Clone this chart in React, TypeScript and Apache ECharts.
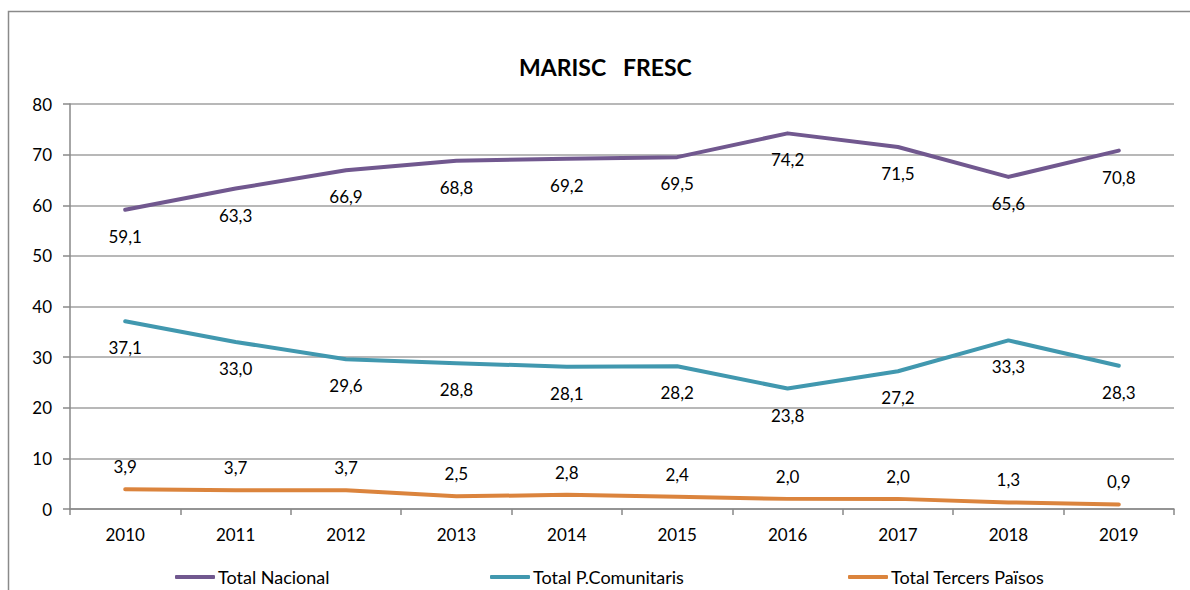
import React, { useEffect, useRef } from "react";
import * as echarts from "echarts";

const years = ["2010", "2011", "2012", "2013", "2014", "2015", "2016", "2017", "2018", "2019"];
const totalNacional = [59.1, 63.3, 66.9, 68.8, 69.2, 69.5, 74.2, 71.5, 65.6, 70.8];
const totalComunitaris = [37.1, 33.0, 29.6, 28.8, 28.1, 28.2, 23.8, 27.2, 33.3, 28.3];
const totalTercers = [3.9, 3.7, 3.7, 2.5, 2.8, 2.4, 2.0, 2.0, 1.3, 0.9];
const seriesNames = ["Total Nacional", "Total P.Comunitaris", "Total Tercers Països"];
const seriesColors = ["#71588F", "#4198AF", "#DB843D"];

const FONT = "Lato";
const fmt = (p: any) => Number(p.value).toFixed(1).replace(".", ",");

export default function App() {
  const ref = useRef<HTMLDivElement>(null);
  useEffect(() => {
    if (!ref.current) return;
    const chart = echarts.init(ref.current, undefined, { renderer: "svg" });
    const mkSeries = (i: number, data: number[], pos: "top" | "bottom", dist: number) => ({
      name: seriesNames[i],
      type: "line",
      data,
      showSymbol: true,
      symbol: "circle",
      symbolSize: 0,
      lineStyle: { color: seriesColors[i], width: 4, cap: "round", join: "round" },
      itemStyle: { color: seriesColors[i] },
      label: {
        show: true,
        position: pos,
        distance: dist,
        formatter: fmt,
        color: "#000",
        fontFamily: FONT,
        fontSize: 17,
      },
    });
    const legendAt = (i: number, left: number) => ({
      data: [{ name: seriesNames[i], icon: "roundRect" }],
      left,
      top: 568,
      padding: 0,
      itemWidth: 40,
      itemHeight: 4,
      itemGap: 0,
      textStyle: { fontFamily: FONT, fontSize: 18, color: "#000", padding: [0, 0, 0, -2] },
    });
    chart.setOption({
      animation: false,
      backgroundColor: "#fff",
      title: {
        text: "MARISC   FRESC",
        left: 519,
        top: 55,
        padding: 0,
        textStyle: { fontFamily: FONT, fontSize: 23, fontWeight: "bold", color: "#000" },
      },
      legend: [legendAt(0, 175), legendAt(1, 490), legendAt(2, 848)],
      graphic: [
        {
          type: "rect",
          shape: { x: 8.5, y: 11.5, width: 1300, height: 700 },
          style: { fill: "none", stroke: "#8a8a8a", lineWidth: 1.5 },
          silent: true,
          z: -10,
        },
      ],
      grid: { left: 70, right: 16, top: 104, bottom: 81, containLabel: false },
      xAxis: {
        type: "category",
        data: years,
        boundaryGap: true,
        axisLine: { show: true, lineStyle: { color: "#888", width: 1.5 } },
        axisTick: { show: true, length: 6, lineStyle: { color: "#888", width: 1.5 } },
        axisLabel: { color: "#000", fontFamily: FONT, fontSize: 17, margin: 17 },
        splitLine: { show: false },
      },
      yAxis: {
        type: "value",
        min: 0,
        max: 80,
        interval: 10,
        axisLine: { show: true, lineStyle: { color: "#888", width: 1.5 } },
        axisTick: { show: true, length: 7, lineStyle: { color: "#888", width: 1.5 } },
        axisLabel: { color: "#000", fontFamily: FONT, fontSize: 17, margin: 18 },
        splitLine: { show: true, lineStyle: { color: "#a0a0a0", width: 1.5 } },
      },
      series: [
        mkSeries(0, totalNacional, "bottom", 18),
        mkSeries(1, totalComunitaris, "bottom", 18),
        mkSeries(2, totalTercers, "top", 14),
      ],
    });
    return () => chart.dispose();
  }, []);
  return (
    <div
      ref={ref}
      style={{ position: "fixed", left: 0, top: 0, width: 1190, height: 590, background: "#fff" }}
    />
  );
}
